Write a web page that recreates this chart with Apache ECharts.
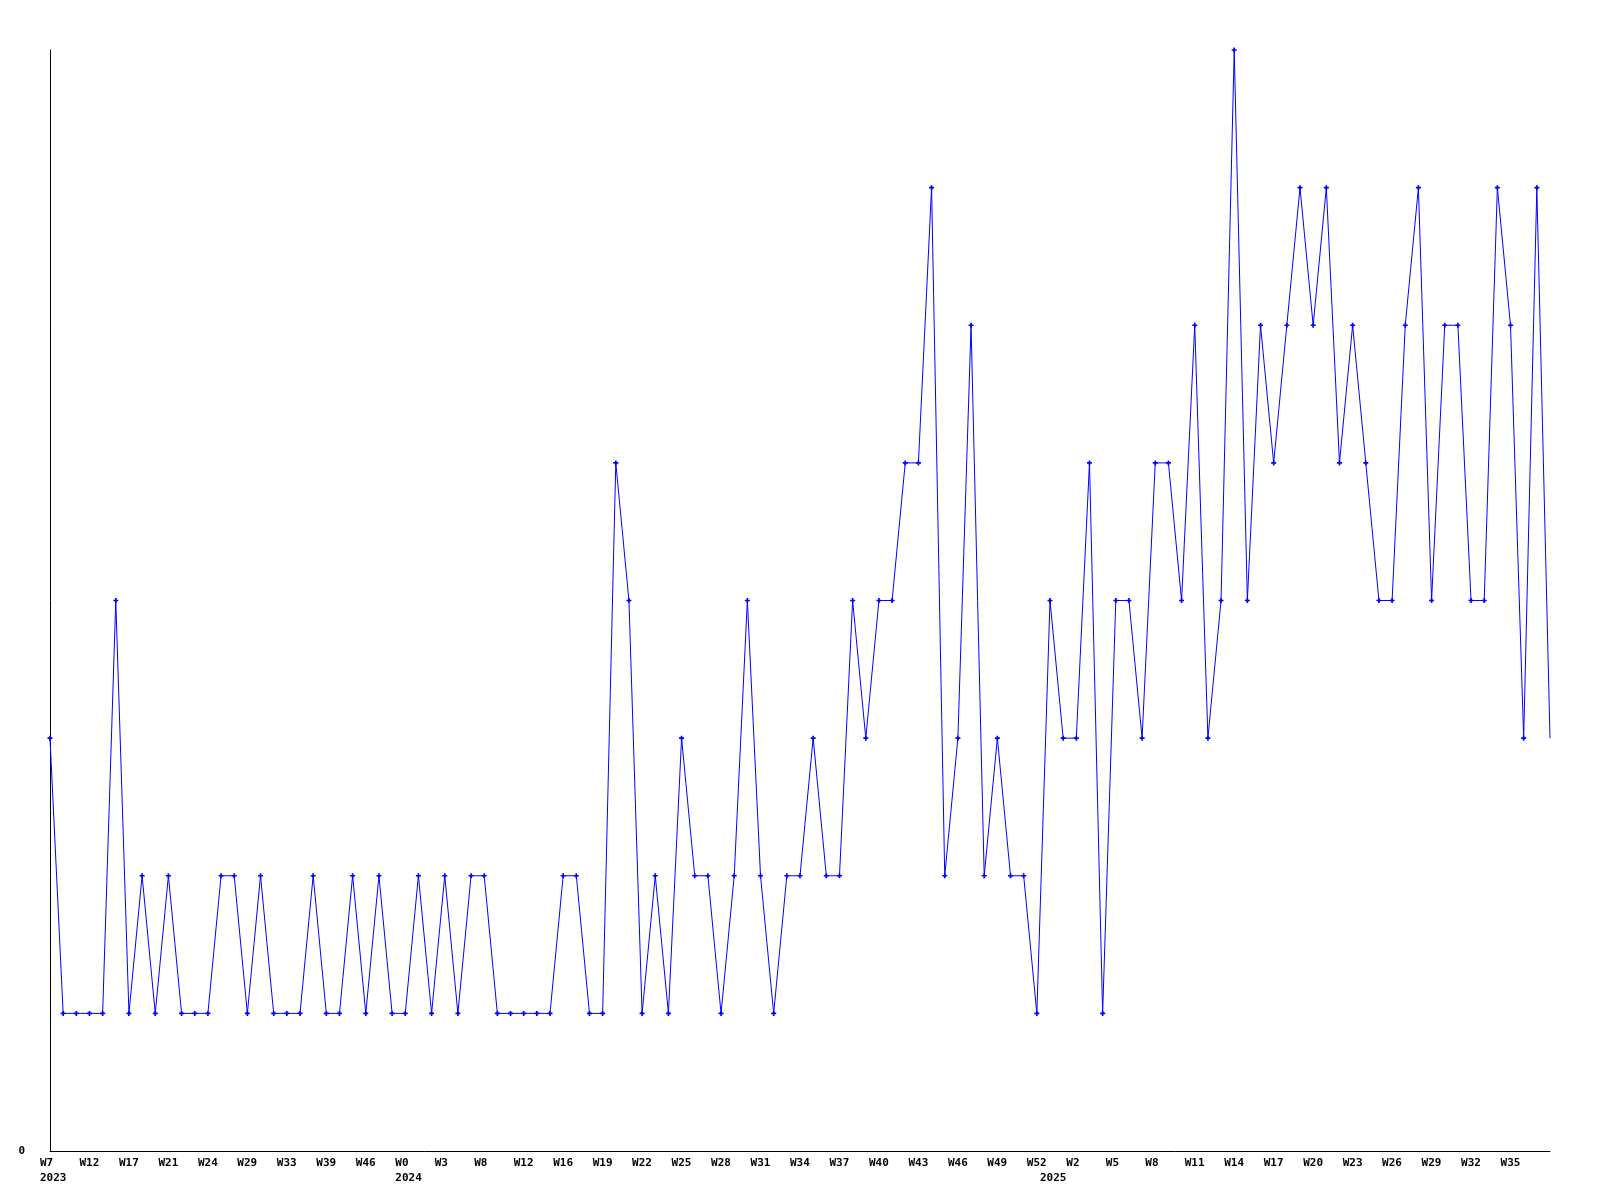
<!DOCTYPE html>
<html>
<head>
<meta charset="utf-8">
<title>Weekly count</title>
<script src="https://cdn.jsdelivr.net/npm/echarts@6/dist/echarts.min.js"></script>
<style>
  html, body { margin: 0; padding: 0; background: #fff; }
  #chart { width: 1600px; height: 1200px; }
</style>
</head>
<body>
<div id="chart"></div>
<script>
// week labels per year (only weeks that have data)
const weeks2023 = ['W7', 'W8', 'W10', 'W12', 'W13', 'W15', 'W17', 'W18', 'W20', 'W21', 'W22', 'W23', 'W24', 'W26',
  'W27', 'W29', 'W30', 'W32', 'W33', 'W35', 'W37', 'W39', 'W41', 'W44', 'W46', 'W48', 'W50'];
const weeks2024 = ['W0', 'W1', 'W2', 'W3', 'W5', 'W6', 'W8', 'W10', 'W11', 'W12', 'W14', 'W15', 'W16', 'W17',
  'W18', 'W19', 'W20', 'W21', 'W22', 'W23', 'W24', 'W25', 'W26', 'W27', 'W28', 'W29', 'W30', 'W31', 'W32',
  'W33', 'W34', 'W35', 'W36', 'W37', 'W38', 'W39', 'W40', 'W41', 'W42', 'W43', 'W44', 'W45', 'W46', 'W47',
  'W48', 'W49', 'W50', 'W51', 'W52'];
const weeks2025 = ['W0', 'W1', 'W2', 'W3', 'W4', 'W5', 'W6', 'W7', 'W8', 'W9', 'W10', 'W11', 'W12', 'W13',
  'W14', 'W15', 'W16', 'W17', 'W18', 'W19', 'W20', 'W21', 'W22', 'W23', 'W24', 'W25', 'W26', 'W27', 'W28',
  'W29', 'W30', 'W31', 'W32', 'W33', 'W34', 'W35', 'W36', 'W37', 'W38'];
const years = ['2023', '2024', '2025'];

const counts = [
  3, 1, 1, 1, 1, 4, 1, 2, 1, 2, 1, 1, 1, 2, 2, 1, 2, 1, 1, 1, 2, 1, 1, 2, 1, 2, 1,
  1, 2, 1, 2, 1, 2, 2, 1, 1, 1, 1, 1, 2, 2, 1, 1, 5, 4, 1, 2, 1, 3, 2, 2, 1, 2, 4, 2,
  1, 2, 2, 3, 2, 2, 4, 3, 4, 4, 5, 5, 7, 2, 3, 6, 2, 3, 2, 2, 1,
  4, 3, 3, 5, 1, 4, 4, 3, 5, 5, 4, 6, 3, 4, 8, 4, 6, 5, 6, 7, 6, 7, 5, 6, 5, 4, 4,
  6, 7, 4, 6, 6, 4, 4, 7, 6, 3, 7, 3
];

// flat category list, remembering where each year starts
const categories = [];
const yearStart = {};
[weeks2023, weeks2024, weeks2025].forEach((list, y) => {
  yearStart[categories.length] = years[y];
  list.forEach(w => categories.push(w));
});
const lastIdx = categories.length - 1;

const labelFont = {
  fontFamily: '"DejaVu Sans Mono", monospace',
  fontWeight: 'bold',
  fontSize: 11,
  color: '#000',
};

const chart = echarts.init(document.getElementById('chart'), null, { renderer: 'canvas' });

chart.setOption({
  animation: false,
  backgroundColor: '#fff',
  grid: {
    left: 50,
    right: 50,
    top: 50,
    bottom: 49,
    containLabel: false,
  },
  xAxis: {
    type: 'category',
    boundaryGap: false,
    data: categories,
    axisLine: { lineStyle: { color: '#000', width: 1 } },
    axisTick: { show: false },
    splitLine: { show: false },
    axisLabel: {
      margin: 5,
      align: 'center',
      // every third week, plus the first week of each year; the last point has no label
      interval: (idx) => (idx % 3 === 0 && idx < lastIdx) || yearStart[idx] !== undefined,
      formatter: (value, idx) => {
        const wk = idx % 3 === 0 ? value : ' ';
        const yr = yearStart[idx];
        return yr ? '{w|' + wk + '}\n{w|' + yr + '}' : '{w|' + wk + '}';
      },
      rich: {
        w: Object.assign({ width: 20, align: 'left', lineHeight: 15 }, labelFont),
      },
    },
  },
  yAxis: {
    type: 'value',
    min: 0,
    max: 8,
    interval: 8,
    axisLine: { show: true, lineStyle: { color: '#000', width: 1 } },
    axisTick: { show: false },
    splitLine: { show: false },
    axisLabel: Object.assign({
      margin: 25,
      formatter: (v) => (v === 0 ? '0' : ''),
    }, labelFont),
  },
  series: [
    {
      type: 'line',
      data: counts.map((v, i) => (i === lastIdx ? { value: v, symbol: 'none' } : v)),
      symbol: 'path://M2,0H4V2H6V4H4V6H2V4H0V2H2Z',
      symbolSize: 5,
      showAllSymbol: true,
      lineStyle: { color: '#0000ff', width: 1 },
      itemStyle: { color: '#0000ff' },
      emphasis: { disabled: true },
    },
  ],
});
</script>
</body>
</html>
